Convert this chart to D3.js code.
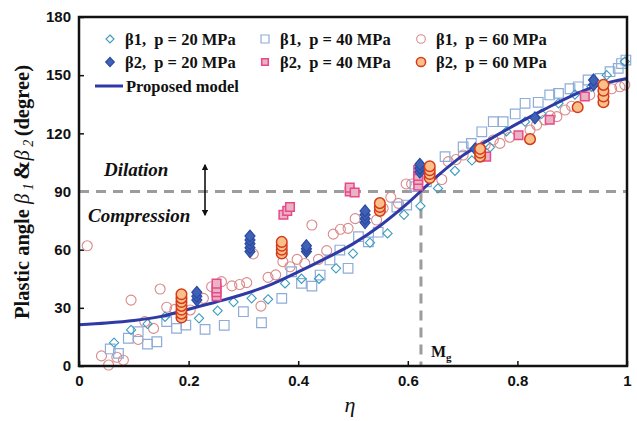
<!DOCTYPE html>
<html>
<head>
<meta charset="utf-8">
<script src="https://cdn.jsdelivr.net/npm/d3@7"></script>
<style>
  body { margin: 0; background: #fff; }
  svg { display: block; }
</style>
</head>
<body>
<div id="chart"></div>
<script>
// ---- data: [eta, angle] ----
var b1p20 = [[0.064,12],[0.095,18.6],[0.125,21.7],[0.157,25.4],[0.219,24.6],[0.253,28.5],[0.282,33],[0.315,34.9],
  [0.345,34.4],[0.376,42.6],[0.406,45],[0.438,45],[0.469,50.4],[0.5,58],[0.531,63.6],[0.563,68.4],[0.593,78],
  [0.623,82.5],[0.655,91.6],[0.686,100.7],[0.717,106],[0.75,112.8],[0.78,121],[0.814,126],[0.844,130],
  [0.875,135.5],[0.905,140],[0.935,144],[0.963,150],[0.996,157]];
var b1p40 = [[0.057,8.8],[0.072,6.5],[0.09,14.3],[0.108,17.7],[0.125,11.3],[0.142,12.5],[0.16,22.9],[0.178,19.4],
  [0.195,21.1],[0.23,18.9],[0.265,21],[0.3,28],[0.333,22.3],[0.37,34.9],[0.388,48.6],[0.406,42.6],[0.425,41.2],
  [0.44,46.9],[0.458,54.7],[0.476,59.8],[0.491,50.4],[0.51,66.7],[0.528,64],[0.546,69],[0.58,82],[0.598,83],
  [0.613,92.5],[0.634,95],[0.668,108],[0.701,113],[0.716,114.8],[0.735,120.8],[0.756,126],[0.774,126],
  [0.796,130],[0.814,135.5],[0.838,136],[0.859,139.8],[0.875,140.6],[0.896,143],[0.911,144],[0.929,147.5],
  [0.951,148.3],[0.969,151.8],[0.984,153.5],[0.99,156],[0.998,157.8]];
var b1p60 = [[0.015,62],[0.041,5.2],[0.054,0.5],[0.069,4.5],[0.081,3],[0.095,34],[0.108,13.7],[0.12,22.9],
  [0.136,19.4],[0.148,39.7],[0.16,30.3],[0.175,29.2],[0.203,28.9],[0.227,34.9],[0.242,40.9],[0.26,43.5],
  [0.279,41.3],[0.293,42],[0.306,43],[0.318,57.8],[0.332,30.9],[0.345,45.7],[0.359,47],[0.372,53.8],
  [0.385,51.2],[0.398,55],[0.412,52.9],[0.425,72.7],[0.437,55],[0.452,59.5],[0.464,68],[0.477,70.5],
  [0.491,71],[0.504,76],[0.543,75.3],[0.555,81.3],[0.569,87],[0.583,83.9],[0.597,93.9],[0.607,93.9],
  [0.662,96.2],[0.674,105.4],[0.688,106.5],[0.701,108.8],[0.741,114],[0.756,116.6],[0.768,114.8],
  [0.786,118],[0.823,121.7],[0.835,124.3],[0.85,126.9],[0.86,129],[0.872,128.6],[0.887,132],[0.899,134],
  [0.932,139.8],[0.972,143],[0.987,144],[0.996,145]];
var b2p20 = [[0.215,34],[0.215,36],[0.215,38],[0.312,59],[0.312,61],[0.312,63],[0.312,65],[0.312,67],
  [0.415,59],[0.415,60.5],[0.415,62],[0.522,74],[0.522,76],[0.522,78],[0.522,80],[0.622,100],[0.622,102],
  [0.622,104],[0.723,112],[0.832,128],[0.939,145],[0.939,147.5]];
var b2p40 = [[0.251,36],[0.251,38],[0.251,40],[0.251,42.5],[0.373,78],[0.38,80],[0.385,82],[0.494,90],
  [0.494,92],[0.503,89.5],[0.619,93],[0.619,96],[0.619,98],[0.619,101],[0.743,108],[0.802,119],[0.859,127],
  [0.923,139]];
var b2p60 = [[0.187,25],[0.187,27],[0.187,29],[0.187,31],[0.187,33],[0.187,35],[0.187,37],[0.37,58],[0.37,60],
  [0.37,62],[0.37,64],[0.549,80],[0.549,82],[0.549,84],[0.64,97],[0.64,99],[0.64,101],[0.64,103],[0.732,108],
  [0.732,110],[0.732,112],[0.823,117],[0.91,133.5],[0.957,136],[0.957,139],[0.957,142],[0.957,145]];
// proposed model curve
var modelCurve = [[0,21.3],[0.05,22.2],[0.1,23.5],[0.15,25.6],[0.2,29.3],[0.25,33],[0.3,37],[0.35,42],
  [0.4,48.5],[0.45,55.5],[0.5,63],[0.55,72.5],[0.6,84],[0.65,97],[0.7,108.5],[0.75,117],[0.8,125],
  [0.85,132.5],[0.9,139.5],[0.95,145],[1,148.3]];
var xTicks = [0, 0.2, 0.4, 0.6, 0.8, 1];
var yTicks = [0, 30, 60, 90, 120, 150, 180];
var legendLabels = ["β1,  p = 20 MPa", "β1,  p = 40 MPa", "β1,  p = 60 MPa",
                    "β2,  p = 20 MPa", "β2,  p = 40 MPa", "β2,  p = 60 MPa", "Proposed model"];
var etaMg = 0.624;

var W = 637, H = 421;
var margin = {top: 17, right: 10, bottom: 55, left: 79};
var width = 627 - margin.left, height = 366 - margin.top;

var svg = d3.select("#chart").append("svg")
    .attr("width", W).attr("height", H)
  .append("g")
    .attr("transform", "translate(" + margin.left + "," + margin.top + ")");

var x = d3.scaleLinear().domain([0, 1]).range([0, width]);
var y = d3.scaleLinear().domain([0, 180]).range([height, 0]);

var sansBold = "'Liberation Sans', Arial, sans-serif";
var serif = "'Liberation Serif', 'Times New Roman', serif";

// axes with inward ticks
var xAxis = svg.append("g").attr("transform", "translate(0," + height + ")")
  .call(d3.axisBottom(x).tickValues(xTicks).tickSize(-5).tickPadding(9)
    .tickFormat(function(d) { return d3.format("")(d); }));
var yAxis = svg.append("g")
  .call(d3.axisLeft(y).tickValues(yTicks).tickSize(-5).tickPadding(8));
[xAxis, yAxis].forEach(function(a) {
  a.select(".domain").remove();
  a.selectAll("line").attr("stroke", "#111").attr("stroke-width", 1.5);
  a.selectAll("text").attr("font-family", sansBold).attr("font-weight", "bold")
    .attr("font-size", 15).attr("fill", "#111");
});

// reference dashed lines
svg.append("line").attr("x1", 0).attr("x2", width).attr("y1", y(90)).attr("y2", y(90))
  .attr("stroke", "#9c9c9c").attr("stroke-width", 3).attr("stroke-dasharray", "10,7");
svg.append("line").attr("x1", x(etaMg)).attr("x2", x(etaMg)).attr("y1", y(90)).attr("y2", height)
  .attr("stroke", "#9c9c9c").attr("stroke-width", 3).attr("stroke-dasharray", "10,7");

// marker path builders
function diamondPath(hw, hh) {
  return "M0," + (-hh) + "L" + hw + ",0L0," + hh + "L" + (-hw) + ",0Z";
}
function squarePath(h) {
  return "M" + (-h) + "," + (-h) + "H" + h + "V" + h + "H" + (-h) + "Z";
}

var styles = {
  b1p20: {d: diamondPath(4.6, 4.6), ld: diamondPath(4, 4), fill: "none", stroke: "#3b9cc0", sw: 1.1},
  b1p40: {d: squarePath(4.8), ld: squarePath(4), fill: "none", stroke: "#8eacd8", sw: 1.2},
  b1p60: {circle: 5, lr: 4.3, fill: "none", stroke: "#d98a8a", sw: 1.1},
  b2p20: {d: diamondPath(5, 6), ld: diamondPath(4.3, 4.6), fill: "#3f62b7", stroke: "#2b49a2", sw: 1.2},
  b2p40: {d: squarePath(4.3), ld: squarePath(3.3), fill: "#e9b3c1", stroke: "#e8488c", sw: 1.5},
  b2p60: {circle: 5.3, lr: 4.6, fill: "#fbbf89", stroke: "#d53a1b", sw: 1.5}
};

function drawSeries(data, st) {
  var g = svg.append("g");
  if (st.circle) {
    g.selectAll("circle").data(data).enter().append("circle")
      .attr("cx", function(d) { return x(d[0]); })
      .attr("cy", function(d) { return y(d[1]); })
      .attr("r", st.circle)
      .attr("fill", st.fill).attr("stroke", st.stroke).attr("stroke-width", st.sw);
  } else {
    g.selectAll("path").data(data).enter().append("path")
      .attr("transform", function(d) { return "translate(" + x(d[0]) + "," + y(d[1]) + ")"; })
      .attr("d", st.d)
      .attr("fill", st.fill).attr("stroke", st.stroke).attr("stroke-width", st.sw);
  }
}

drawSeries(b1p60, styles.b1p60);
drawSeries(b1p40, styles.b1p40);
drawSeries(b1p20, styles.b1p20);

// model curve
svg.append("path").datum(modelCurve)
  .attr("fill", "none").attr("stroke", "#2f3aa6").attr("stroke-width", 3)
  .attr("d", d3.line().curve(d3.curveMonotoneX)
    .x(function(d) { return x(d[0]); }).y(function(d) { return y(d[1]); }));

drawSeries(b2p40, styles.b2p40);
drawSeries(b2p20, styles.b2p20);
drawSeries(b2p60, styles.b2p60);

// frame
svg.append("rect").attr("x", 0).attr("y", 0).attr("width", width).attr("height", height)
  .attr("fill", "none").attr("stroke", "#111").attr("stroke-width", 2.5);

// legend
var legKeys = ["b1p20", "b1p40", "b1p60", "b2p20", "b2p40", "b2p60"];
var legCols = [110, 265, 421], legRows = [39, 62];
var leg = d3.select("svg").append("g");
legKeys.forEach(function(k, i) {
  var cx = legCols[i % 3], cy = legRows[Math.floor(i / 3)];
  var st = styles[k];
  if (st.circle) {
    leg.append("circle").attr("cx", cx).attr("cy", cy).attr("r", st.lr)
      .attr("fill", st.fill).attr("stroke", st.stroke).attr("stroke-width", st.sw);
  } else {
    leg.append("path").attr("transform", "translate(" + cx + "," + cy + ")").attr("d", st.ld)
      .attr("fill", st.fill).attr("stroke", st.stroke).attr("stroke-width", st.sw);
  }
  leg.append("text").attr("x", cx + 15).attr("y", cy + 6)
    .attr("font-family", serif).attr("font-weight", "bold").attr("font-size", 16.5)
    .attr("fill", "#111").attr("xml:space", "preserve").text(legendLabels[i]);
});
leg.append("line").attr("x1", 95).attr("x2", 123).attr("y1", 86).attr("y2", 86)
  .attr("stroke", "#2f3aa6").attr("stroke-width", 3);
leg.append("text").attr("x", 126).attr("y", 92)
  .attr("font-family", serif).attr("font-weight", "bold").attr("font-size", 16.5)
  .attr("fill", "#111").text(legendLabels[6]);

// annotations
var root = d3.select("svg");
root.append("text").attr("x", 104).attr("y", 176).text("Dilation")
  .attr("font-family", serif).attr("font-weight", "bold").attr("font-style", "italic")
  .attr("font-size", 19).attr("fill", "#111");
root.append("text").attr("x", 88).attr("y", 222).text("Compression")
  .attr("font-family", serif).attr("font-weight", "bold").attr("font-style", "italic")
  .attr("font-size", 19).attr("fill", "#111");
var defs = root.append("defs");
defs.append("marker").attr("id", "ah").attr("viewBox", "0 0 10 10").attr("refX", 8).attr("refY", 5)
  .attr("markerWidth", 4).attr("markerHeight", 4).attr("orient", "auto-start-reverse")
  .append("path").attr("d", "M0,0L10,5L0,10Z").attr("fill", "#111");
root.append("line").attr("x1", 205).attr("x2", 205).attr("y1", 165).attr("y2", 215)
  .attr("stroke", "#111").attr("stroke-width", 1.6)
  .attr("marker-start", "url(#ah)").attr("marker-end", "url(#ah)");

var mg = root.append("text").attr("x", 431).attr("y", 357)
  .attr("font-family", serif).attr("font-weight", "bold").attr("font-size", 16).attr("fill", "#111");
mg.append("tspan").text("M");
mg.append("tspan").attr("font-size", 11).attr("dy", 4).text("g");

// axis titles
root.append("text").attr("x", 350).attr("y", 412).attr("text-anchor", "middle")
  .attr("font-family", serif).attr("font-style", "italic").attr("font-size", 22)
  .attr("fill", "#111").text("η");

var yl = root.append("text").attr("transform", "translate(29,192) rotate(-90)")
  .attr("text-anchor", "middle").attr("font-family", serif).attr("font-size", 20.5)
  .attr("fill", "#111").attr("xml:space", "preserve");
yl.append("tspan").attr("font-weight", "bold").text("Plastic angle ");
yl.append("tspan").attr("font-style", "italic").text("β");
yl.append("tspan").attr("font-style", "italic").attr("font-size", 14).attr("dy", 4).text(" 1 ");
yl.append("tspan").attr("font-weight", "bold").attr("font-size", 23).attr("dy", -4).text("&");
yl.append("tspan").attr("font-style", "italic").text("β");
yl.append("tspan").attr("font-style", "italic").attr("font-size", 14).attr("dy", 4).text(" 2 ");
yl.append("tspan").attr("font-weight", "bold").attr("dy", -4).text("(degree)");
</script>
</body>
</html>
